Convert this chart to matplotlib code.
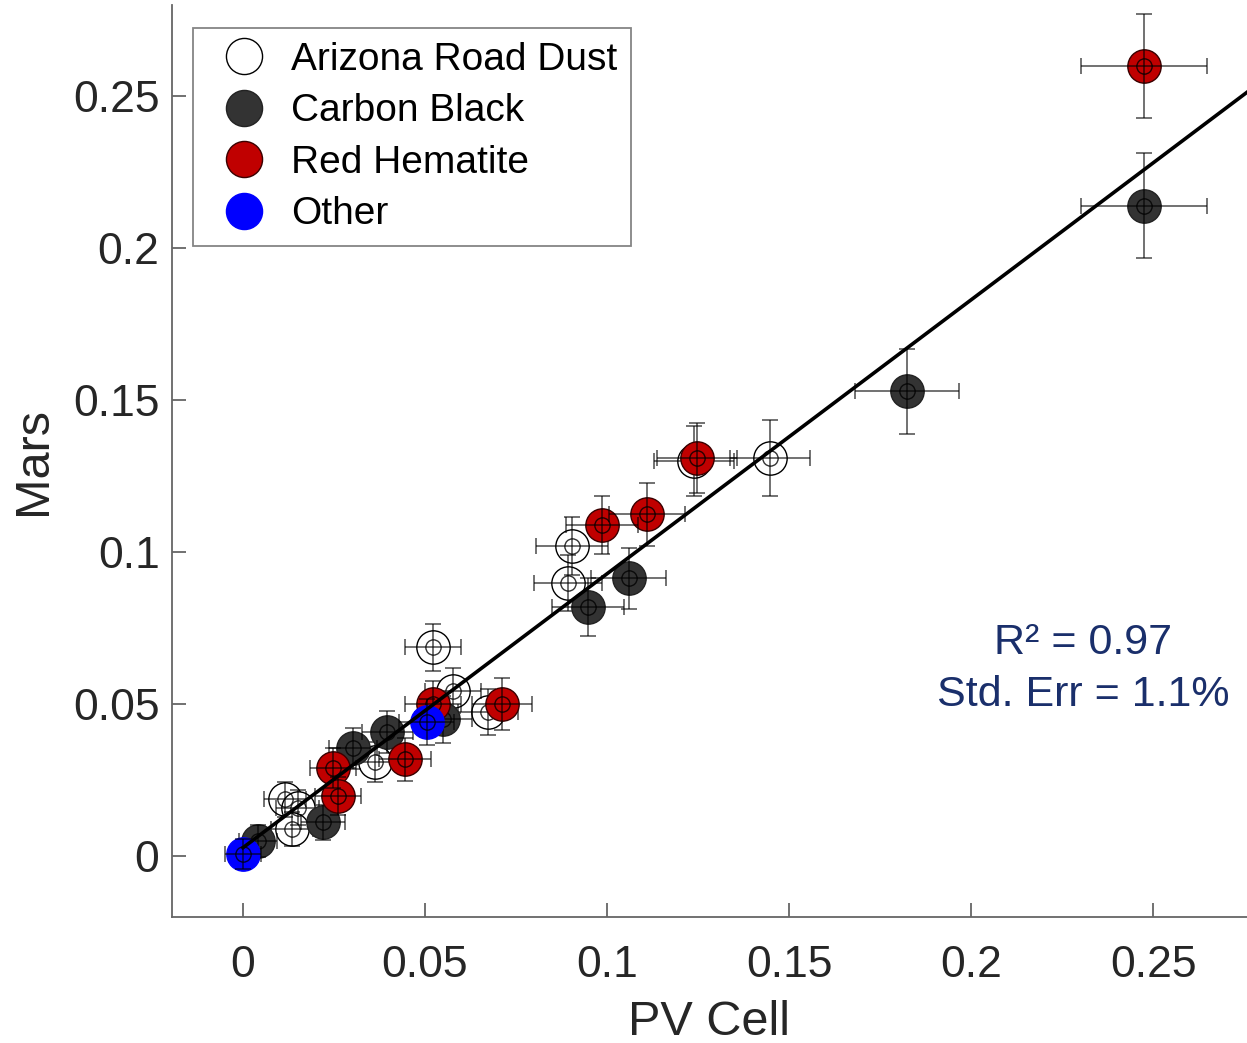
import matplotlib
matplotlib.use("Agg")
import matplotlib.pyplot as plt
from matplotlib.lines import Line2D
import numpy as np

plt.rcParams['font.family'] = ['Liberation Sans', 'DejaVu Sans']

# Arizona Road Dust
ard_x = [0.1448, 0.1240, 0.0904, 0.0893, 0.0522, 0.0577, 0.0673, 0.0363, 0.0115, 0.0150, 0.0135]
ard_y = [0.1310, 0.1300, 0.1020, 0.0898, 0.0687, 0.0545, 0.0474, 0.0310, 0.0187, 0.0160, 0.0089]
ard_xe = [0.0110, 0.0110, 0.0098, 0.0094, 0.0076, 0.0078, 0.0082, 0.0068, 0.0058, 0.0060, 0.0058]
ard_ye = [0.0125, 0.0115, 0.0095, 0.0092, 0.0077, 0.0075, 0.0075, 0.0065, 0.0058, 0.0058, 0.0056]

# Carbon Black
cb_x = [0.2475, 0.1824, 0.1060, 0.0948, 0.0550, 0.0396, 0.0302, 0.0220, 0.0041]
cb_y = [0.2140, 0.1530, 0.0914, 0.0819, 0.0450, 0.0408, 0.0355, 0.0112, 0.0050]
cb_xe = [0.0173, 0.0143, 0.0103, 0.0099, 0.0078, 0.0070, 0.0066, 0.0060, 0.0052]
cb_ye = [0.0172, 0.0140, 0.0100, 0.0096, 0.0076, 0.0070, 0.0068, 0.0058, 0.0052]

# Red Hematite
rh_x = [0.2475, 0.1247, 0.1110, 0.0986, 0.0712, 0.0522, 0.0445, 0.0247, 0.0261]
rh_y = [0.2600, 0.1310, 0.1125, 0.1089, 0.0500, 0.0500, 0.0319, 0.0290, 0.0197]
rh_xe = [0.0173, 0.0110, 0.0105, 0.0100, 0.0082, 0.0076, 0.0072, 0.0064, 0.0062]
rh_ye = [0.0172, 0.0115, 0.0103, 0.0096, 0.0085, 0.0076, 0.0070, 0.0065, 0.0062]

# Other
ot_x = [0.0505, 0.0000]
ot_y = [0.0441, 0.0007]
ot_xe = [0.0076, 0.0050]
ot_ye = [0.0076, 0.0050]

fit_slope = 0.901
fit_intercept = 0.0028
fit_range = [0.0, 0.28]

groups = [
    ("Arizona Road Dust", ard_x, ard_y, ard_xe, ard_ye, "white", "black"),
    ("Carbon Black", cb_x, cb_y, cb_xe, cb_ye, "#333333", "#222222"),
    ("Red Hematite", rh_x, rh_y, rh_xe, rh_ye, "#c00000", "#3a0000"),
    ("Other", ot_x, ot_y, ot_xe, ot_ye, "#0000ff", "#0000ff"),
]

fig = plt.figure(figsize=(12.47, 10.43), dpi=100)
ax = fig.add_axes([172/1247, 126/1043, 1 - 172/1247, 912/1043])

z = 2
for name, x, y, xe, ye, fc, ec in groups:
    ax.plot(x, y, 'o', ms=24, mfc=fc, mec=ec, mew=1.0, zorder=z)
    ax.plot(x, y, 'o', ms=11, mfc='none', mec='black', mew=1.0, alpha=0.8, zorder=z + 0.1)
    ax.errorbar(x, y, xerr=xe, yerr=ye, fmt='none', ecolor='black', elinewidth=1.3,
                capsize=6, capthick=1.3, alpha=0.6, zorder=z + 0.2)
    z += 1

fx = np.array(fit_range)
ax.plot(fx, fit_slope * fx + fit_intercept, color='black', lw=2.6, zorder=10)

ax.set_xlim(-0.0195, 0.2758)
ax.set_ylim(-0.02, 0.28)
xt = [0, 0.05, 0.1, 0.15, 0.2, 0.25]
ax.set_xticks(xt)
ax.set_yticks(xt)
ax.set_xticklabels([f"{v:g}" for v in xt])
ax.set_yticklabels([f"{v:g}" for v in xt])
ax.tick_params(direction='in', length=10, width=1.3, colors='#666666', labelcolor='#262626',
               labelsize=32)
ax.tick_params(axis='y', pad=9)
ax.tick_params(axis='x', pad=20)
for s in ['top', 'right']:
    ax.spines[s].set_visible(False)
for s in ['left', 'bottom']:
    ax.spines[s].set_color('#666666')
    ax.spines[s].set_linewidth(1.3)

ax.set_xlabel("PV Cell", fontsize=35, color='#262626', labelpad=10)
ax.set_ylabel("Mars", fontsize=35, color='#262626', labelpad=12)

ax.text(1083, 1043 - 643, "R² = 0.97", transform=None, fontsize=31, color='#1a2f6b',
        ha='center', va='center')
ax.text(1083, 1043 - 695, "Std. Err = 1.1%", transform=None, fontsize=31, color='#1a2f6b',
        ha='center', va='center')

handles = [Line2D([], [], ls='none', marker='o', ms=26, mfc=fc, mec=ec, mew=1.0)
           for name, x, y, xe, ye, fc, ec in groups]
labels = [g[0] for g in groups]
leg = ax.legend(handles, labels, loc='upper left', bbox_to_anchor=(193/1247, 1 - 28/1043),
                bbox_transform=fig.transFigure, fontsize=28, frameon=True, fancybox=False,
                edgecolor='#666666', borderaxespad=0, handletextpad=0.24, labelspacing=0.4,
                borderpad=0.35, handlelength=1.93)
leg.get_frame().set_linewidth(1.3)
leg.set_zorder(20)

fig.savefig("out.png", dpi=100)
